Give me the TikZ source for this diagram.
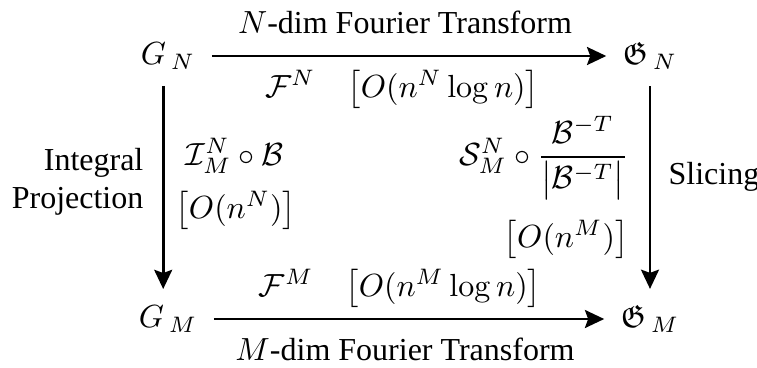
\documentclass[tikz,border=0pt]{standalone}
\usepackage{amsmath,amssymb}
\usepackage[no-math]{fontspec}
\setmainfont{Liberation Serif}
\usetikzlibrary{arrows.meta}
\tikzset{
  node-obj/.style={inner sep=5pt},
  node-lbl/.style={inner sep=0pt,align=center},
  arrow/.style={-{Stealth[length=6pt,width=5.6pt,inset=1pt]},line width=0.9pt},
}
\begin{document}
\begin{tikzpicture}[x=0.3125pt,y=-0.3125pt]
  \useasboundingbox (0,0) rectangle (757,367);
  % the four spaces
  \node[node-obj] (GN)  at (168,56)  {$G_{\kern1.5pt N}$};
  \node[node-obj] (fGN) at (650,56)  {$\mathfrak{G}_{\kern1.5pt N}$};
  \node[node-obj] (GM)  at (168,319) {$G_{\kern1.5pt M}$};
  \node[node-obj] (fGM) at (650,319) {$\mathfrak{G}_{\kern1.5pt M}$};
  \draw[arrow] (GN) -- (fGN);
  \draw[arrow] (GM) -- (fGM);
  \draw[arrow] ([xshift=-1.5pt]GN.south) -- ([xshift=-1.5pt]GM.north);
  \draw[arrow] (fGN) -- (fGM);
  % top and bottom labels
  \node[node-lbl,anchor=base] (topName) at (405,33)  {$N$-dim Fourier Transform};
  \node[node-lbl,anchor=base] (topCost) at (402,97)  {$\mathcal{F}^N\quad\bigl[O(n^N\log n)\bigr]$};
  \node[node-lbl,anchor=base] (botCost) at (400,296) {$\mathcal{F}^M\quad\bigl[O(n^M\log n)\bigr]$};
  \node[node-lbl,anchor=base] (botName) at (405,360) {$M$-dim Fourier Transform};
  % left side
  \node[node-lbl,align=right,anchor=east] (projName) at (144,182) {Integral\\Projection};
  \node[node-lbl,anchor=base west] (projOp)   at (185,165) {$\mathcal{I}^N_M\circ\mathcal{B}$};
  \node[node-lbl,anchor=base west] (projCost) at (175,218) {$\bigl[O(n^N)\bigr]$};
  % right side
  \node[node-lbl,anchor=base west] (sliceName) at (668,184) {Slicing};
  \node[node-lbl,anchor=base east] (sliceOp)   at (629,165) {$\mathcal{S}^N_M\circ\dfrac{\mathcal{B}^{-T}}{\bigl|\mathcal{B}^{-T}\bigr|}$};
  \node[node-lbl,anchor=base east] (sliceCost) at (629,247) {$\bigl[O(n^M)\bigr]$};
\end{tikzpicture}
\end{document}
